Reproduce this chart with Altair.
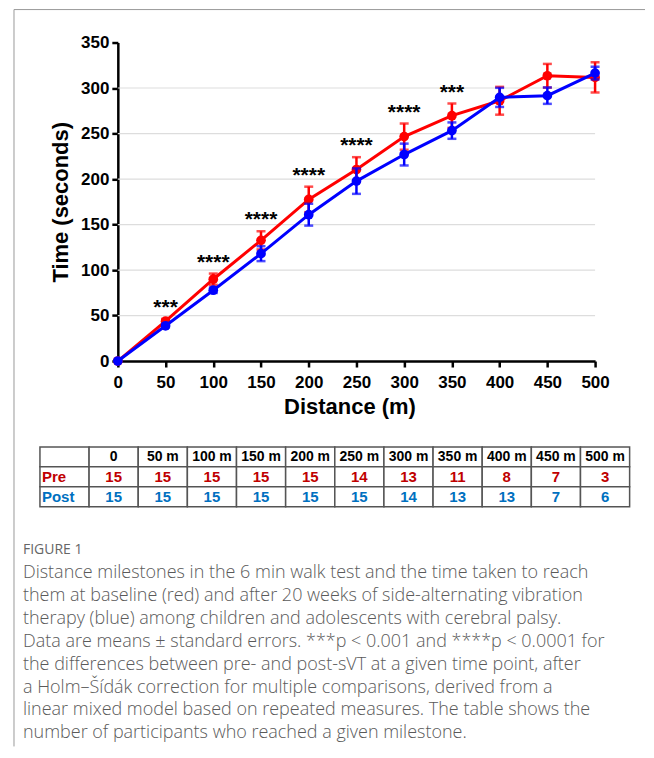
import altair as alt
import pandas as pd

# ---------------- data ----------------
distance = [0, 50, 100, 150, 200, 250, 300, 350, 400, 450, 500]
pre_mean = [0, 43.8, 89.9, 132.6, 177.6, 210.4, 246.6, 269.6, 286.0, 313.5, 311.7]
pre_se = [0, 2.5, 6.2, 10.0, 14.0, 13.6, 14.4, 13.4, 15.3, 13.0, 16.6]
post_mean = [0, 38.7, 77.8, 118.0, 160.8, 197.7, 226.9, 253.2, 289.7, 291.6, 316.4]
post_se = [0, 1.8, 3.0, 8.2, 12.0, 14.0, 12.0, 9.0, 10.5, 9.0, 7.0]
stars = ["", "***", "****", "****", "****", "****", "****", "***", "", "", ""]
grid_values = [50, 100, 150, 200, 250, 300]
y_ticks = [0, 50, 100, 150, 200, 250, 300, 350]

table_headers = ["", "0", "50 m", "100 m", "150 m", "200 m", "250 m",
                 "300 m", "350 m", "400 m", "450 m", "500 m"]
pre_n = [15, 15, 15, 15, 15, 14, 13, 11, 8, 7, 3]
post_n = [15, 15, 15, 15, 15, 15, 14, 13, 13, 7, 6]

caption_lines = [
    "FIGURE 1",
    "Distance milestones in the 6 min walk test and the time taken to reach",
    "them at baseline (red) and after 20 weeks of side-alternating vibration",
    "therapy (blue) among children and adolescents with cerebral palsy.",
    "Data are means \u00b1 standard errors. ***p < 0.001 and ****p < 0.0001 for",
    "the differences between pre- and post-sVT at a given time point, after",
    "a Holm\u2013\u0160\u00edd\u00e1k correction for multiple comparisons, derived from a",
    "linear mixed model based on repeated measures. The table shows the",
    "number of participants who reached a given milestone.",
]

RED = "#ff0000"
BLUE = "#0000ff"
T_RED = "#c00000"
T_BLUE = "#0070c0"
W, H = 478, 319

# ---------------- main plot ----------------
rows = []
for i, d in enumerate(distance):
    rows.append(dict(distance=d, group="Pre", mean=pre_mean[i], se=pre_se[i],
                     lo=pre_mean[i] - pre_se[i], hi=pre_mean[i] + pre_se[i], star=stars[i]))
for i, d in enumerate(distance):
    rows.append(dict(distance=d, group="Post", mean=post_mean[i], se=post_se[i],
                     lo=post_mean[i] - post_se[i], hi=post_mean[i] + post_se[i], star=""))
df = pd.DataFrame(rows)

xscale = alt.Scale(domain=[0, 500], nice=False, zero=False)
yscale = alt.Scale(domain=[0, 350], nice=False)
xaxis = alt.Axis(values=distance, title="Distance (m)", labelFlush=False,
                 labelPadding=8, titlePadding=6, titleX=232)
yaxis = alt.Axis(values=y_ticks, title="Time (seconds)", labelFlush=False,
                 labelPadding=3, titlePadding=8)


def X(field="distance"):
    return alt.X(f"{field}:Q", scale=xscale, axis=xaxis)


def Y(field):
    return alt.Y(f"{field}:Q", scale=yscale, axis=yaxis)


base = alt.Chart(df)

grid = alt.Chart(pd.DataFrame({"g": grid_values})).mark_rule(
    color="#dddddd", strokeWidth=1.2
).encode(y=Y("g"), x=alt.value(0), x2=alt.value(W))

layers = [grid]
for grp, col in [("Pre", RED), ("Post", BLUE)]:
    b = base.transform_filter(alt.datum.group == grp)
    line = b.mark_line(color=col, strokeWidth=3).encode(x=X(), y=Y("mean"))
    eb = b.transform_filter("datum.se > 0")
    err = eb.mark_rule(color=col, strokeWidth=2.5).encode(x=X(), y=Y("lo"), y2="hi:Q")
    cap_lo = eb.mark_tick(color=col, orient="horizontal", size=9, thickness=2.5).encode(x=X(), y=Y("lo"))
    cap_hi = eb.mark_tick(color=col, orient="horizontal", size=9, thickness=2.5).encode(x=X(), y=Y("hi"))
    pts = b.mark_circle(color=col, size=95, opacity=1).encode(x=X(), y=Y("mean"))
    layers += [line, err, cap_lo, cap_hi, pts]

star_layer = base.transform_filter("datum.star != ''").mark_text(
    font="Liberation Sans", fontSize=21, fontWeight="bold", color="black",
    baseline="alphabetic", dy=-5
).encode(x=X(), y=Y("hi"), text="star:N")
layers.append(star_layer)

main = alt.layer(*layers)

# ---------------- table ----------------
col_keys = [f"c{i}" for i in range(12)]
trows = []
for i, k in enumerate(col_keys):
    trows.append(dict(col=k, row="h", txt=table_headers[i]))
    trows.append(dict(col=k, row="pre", txt="Pre" if i == 0 else str(pre_n[i - 1])))
    trows.append(dict(col=k, row="post", txt="Post" if i == 0 else str(post_n[i - 1])))
tdf = pd.DataFrame(trows)

tx_scale = alt.Scale(domain=col_keys, range=[-78, 512.6], paddingInner=0, paddingOuter=0)
ty_scale = alt.Scale(domain=["h", "pre", "post"], range=[405, 465], paddingInner=0, paddingOuter=0)
TFONT = "Liberation Sans"


def TX(**kw):
    return alt.X("col:N", scale=tx_scale, axis=None, sort=col_keys, **kw)


def TY():
    return alt.Y("row:N", scale=ty_scale, axis=None, sort=["h", "pre", "post"])


tbase = alt.Chart(tdf)
cells = tbase.mark_rect(fill="white", stroke="#555555", strokeWidth=1.5).encode(x=TX(), y=TY())
head = tbase.transform_filter("datum.row == 'h'").mark_text(
    font=TFONT, fontSize=14, fontWeight="bold", color="black", baseline="middle"
).encode(x=TX(), y=TY(), text="txt:N")
pre_t = tbase.transform_filter("datum.row == 'pre' && datum.col != 'c0'").mark_text(
    font=TFONT, fontSize=15, fontWeight="bold", color=T_RED, baseline="middle"
).encode(x=TX(), y=TY(), text="txt:N")
post_t = tbase.transform_filter("datum.row == 'post' && datum.col != 'c0'").mark_text(
    font=TFONT, fontSize=15, fontWeight="bold", color=T_BLUE, baseline="middle"
).encode(x=TX(), y=TY(), text="txt:N")
labels = tbase.transform_filter("datum.row != 'h' && datum.col == 'c0'").mark_text(
    font=TFONT, fontSize=15, fontWeight="bold", baseline="middle", align="left", dx=2
).encode(
    x=TX(bandPosition=0), y=TY(), text="txt:N",
    color=alt.condition("datum.row == 'pre'", alt.value(T_RED), alt.value(T_BLUE)),
)
table = alt.layer(cells, head, pre_t, post_t, labels)

# ---------------- caption ----------------
cdf = pd.DataFrame({"k": list(range(len(caption_lines))), "txt": caption_lines})
cy = alt.Scale(domain=[0, 8], range=[508, 692])
cap_title = alt.Chart(cdf).transform_filter("datum.k == 0").mark_text(
    font="Open Sans", fontSize=14, fontWeight=500, color="#666666", align="left", baseline="middle"
).encode(x=alt.value(-95), y=alt.Y("k:Q", scale=cy, axis=None), text="txt:N")
cap_body = alt.Chart(cdf).transform_filter("datum.k > 0").mark_text(
    font="Open Sans", fontSize=18, fontWeight=300, color="#5a5a5a", align="left", baseline="middle"
).encode(x=alt.value(-95), y=alt.Y("k:Q", scale=cy, axis=None), text="txt:N")
caption = alt.layer(cap_title, cap_body)

# ---------------- frame ----------------
one = pd.DataFrame({"a": [0]})
frame_left = alt.Chart(one).mark_rule(color="#999999", strokeWidth=1).encode(
    x=alt.value(-104), y=alt.value(-33), y2=alt.value(705))
frame_top = alt.Chart(one).mark_rule(color="#999999", strokeWidth=1).encode(
    x=alt.value(-104), x2=alt.value(528), y=alt.value(-33))
frame = alt.layer(frame_left, frame_top)

chart = alt.layer(main, table, caption, frame).resolve_scale(
    x="independent", y="independent"
).properties(
    width=W, height=H, padding={"left": 5, "top": 0, "right": 0, "bottom": 0},
    background="white",
).configure_view(stroke=None).configure_axis(
    labelFont="Liberation Sans", labelFontWeight="bold", labelFontSize=17, labelColor="black",
    titleFont="Liberation Sans", titleFontWeight="bold", titleFontSize=22, titleColor="black",
    domainColor="black", domainWidth=2.5, tickColor="black", tickWidth=2.5, tickSize=6, grid=False,
)

chart.save("out.html", embed_options={"renderer": "svg", "actions": False})
